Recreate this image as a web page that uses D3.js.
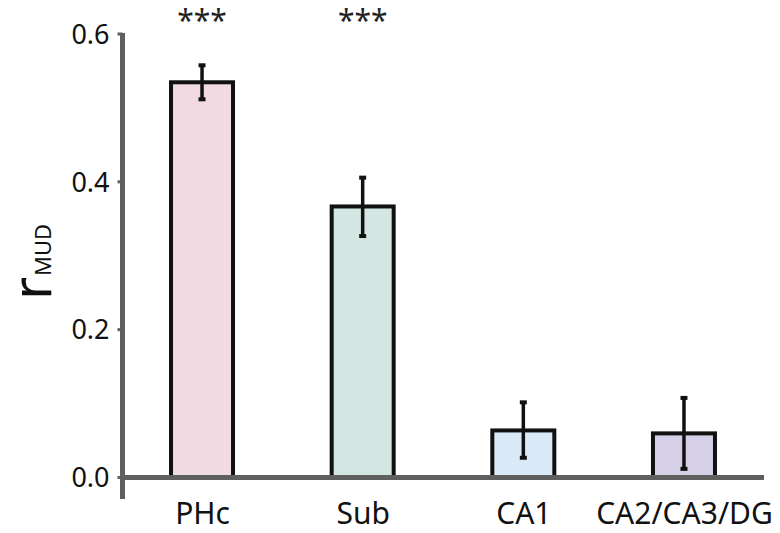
<!DOCTYPE html>
<html><head><meta charset="utf-8">
<script src="https://d3js.org/d3.v7.min.js"></script>
<style>body{margin:0;background:#fff;} text{font-family:"Noto Sans","Open Sans",sans-serif;}</style>
</head><body><svg id="c" width="780" height="533"></svg>
<script>
const categories = ["PHc","Sub","CA1","CA2/CA3/DG"];
const values = [0.534, 0.366, 0.063, 0.059];
const errLow = [0.511, 0.326, 0.026, 0.011];
const errHigh = [0.557, 0.405, 0.101, 0.107];
const stars = ["***","***","",""];
const colors = ["#f2dae3","#d3e6e1","#dbeaf8","#d5d0e7"];
const yTicks = [0.0, 0.2, 0.4, 0.6];

const svg = d3.select("#c");
const y = d3.scaleLinear().domain([0,0.6]).range([477,33.5]);
const x = d3.scalePoint().domain(categories).range([121.7,764.3]).padding(0.5);
const bw = 62;

// bars
svg.selectAll("rect.bar").data(categories).join("rect")
  .attr("x", d=>x(d)-bw/2).attr("width", bw)
  .attr("y", (d,i)=>y(values[i])).attr("height",(d,i)=>y(0)-y(values[i]))
  .attr("fill",(d,i)=>colors[i]).attr("stroke","#111").attr("stroke-width",4);

// error bars
const eb = svg.append("g").attr("stroke","#111");
categories.forEach((c,i)=>{
  eb.append("line").attr("x1",x(c)).attr("x2",x(c)).attr("y1",y(errHigh[i])).attr("y2",y(errLow[i])).attr("stroke-width",3.5);
  [errHigh[i],errLow[i]].forEach(v=>eb.append("line").attr("x1",x(c)-3.5).attr("x2",x(c)+3.5).attr("y1",y(v)).attr("y2",y(v)).attr("stroke-width",4));
});

// y axis
const ya = svg.append("g").attr("transform","translate(122.5,0)")
  .call(d3.axisLeft(y).tickValues(yTicks).tickFormat(d3.format(".1f")).tickSize(5).tickSizeOuter(0));
ya.select(".domain").remove();
ya.append("line").attr("x1",0).attr("x2",0).attr("y1",33).attr("y2",499).attr("stroke","#5f5f5f").attr("stroke-width",5);
ya.selectAll(".tick line").attr("stroke","#5f5f5f").attr("stroke-width",3).attr("x2",-5);
ya.selectAll(".tick text").attr("x",-13).attr("dy","0.36em").attr("font-size",27).attr("fill","#111")
  .style("font-family",'"Noto Sans","Open Sans",sans-serif');

// x axis
const xa = svg.append("g").attr("transform","translate(0,477.5)")
  .call(d3.axisBottom(x).tickSize(0).tickSizeOuter(0));
xa.select(".domain").remove();
xa.append("line").attr("x1",120).attr("x2",764).attr("y1",0).attr("y2",0).attr("stroke","#5f5f5f").attr("stroke-width",5);
xa.selectAll(".tick text").attr("y",46).attr("dy",0).attr("font-size",30).attr("fill","#111")
  .style("font-family",'"Noto Sans","Open Sans",sans-serif');

// stars
svg.selectAll("text.star").data(categories).join("text").attr("class","star")
  .attr("x",d=>x(d)).attr("y",31).attr("text-anchor","middle").attr("font-size",30).attr("fill","#222")
  .text((d,i)=>stars[i]);

// y label
const yl = svg.append("text").attr("transform","translate(51,262) rotate(-90)").attr("text-anchor","middle").attr("fill","#111");
yl.append("tspan").attr("font-size",54).style("font-family",'"DejaVu Sans",sans-serif').text("r");
yl.append("tspan").attr("font-size",22).attr("dx",2).text("MUD");
</script></body></html>
